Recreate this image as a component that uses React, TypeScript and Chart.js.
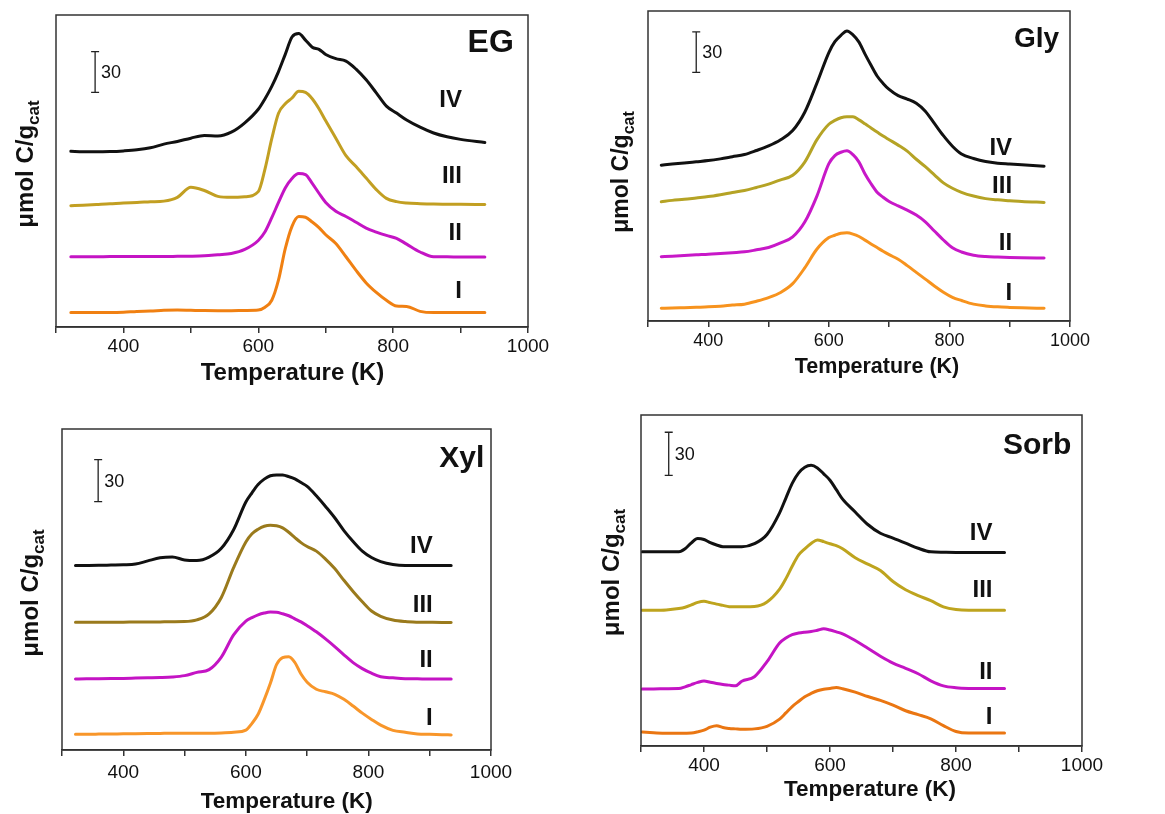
import React, { useEffect, useRef } from "react";
import { Chart, registerables } from "chart.js";

Chart.register(...registerables);

const FONT = '"Liberation Sans", Arial, Helvetica, sans-serif';

const seriesNames = ["I", "II", "III", "IV"];
const xTitleText = "Temperature (K)";
const yTitleMain = "\u03bcmol C/g";
const yTitleSub = "cat";
const scaleBarLabel = "30";
const xTickValues = [400, 600, 800, 1000];

// ---------- EG ----------
const egTemps = [322, 340, 360, 380, 400, 420, 440, 460, 480, 500, 520, 540, 560, 580, 600, 610, 620, 630, 640, 650, 660, 670, 680, 690, 700, 715, 730, 745, 760, 775, 790, 805, 820, 840, 860, 880, 900, 936];
const egI = [10.6, 10.6, 10.7, 10.7, 10.9, 11.5, 11.8, 12.3, 12.5, 12.3, 12.1, 12.0, 12.0, 12.2, 12.5, 14.6, 19.7, 34.7, 57.7, 74.2, 81.4, 80.9, 77.4, 73.3, 68.0, 61.6, 51.8, 41.7, 32.5, 25.5, 19.7, 15.5, 15.2, 11.5, 10.6, 10.6, 10.6, 10.6];
const egII = [51.8, 51.8, 51.8, 51.9, 51.9, 52.0, 52.0, 52.0, 52.1, 52.2, 52.5, 53.3, 54.2, 57.2, 63.8, 70.2, 80.6, 91.8, 102.5, 109.5, 113.1, 112.3, 105.9, 98.6, 91.8, 85.3, 81.5, 77.2, 72.9, 70.0, 67.5, 65.4, 61.1, 55.3, 51.8, 51.7, 51.6, 51.6];
const egIII = [89.4, 89.8, 90.3, 90.8, 91.5, 91.8, 92.3, 92.8, 95.6, 103.0, 100.6, 96.3, 95.6, 96.0, 99.8, 116.6, 138.8, 157.6, 164.5, 168.8, 173.8, 173.0, 168.3, 160.9, 152.0, 139.2, 126.3, 118.3, 109.8, 101.3, 94.8, 92.4, 91.4, 90.9, 90.6, 90.5, 90.4, 90.3];
const egIV = [129.6, 129.2, 129.1, 129.3, 129.8, 130.6, 132.1, 134.8, 136.8, 139.2, 141.2, 140.8, 143.6, 150.5, 160.5, 168.3, 177.4, 188.3, 201.0, 213.8, 216.3, 211.5, 206.3, 204.7, 200.9, 197.8, 196.0, 190.1, 182.2, 172.6, 162.8, 157.7, 152.6, 147.3, 143.0, 140.2, 138.3, 136.0];

// ---------- Gly ----------
const glyTemps = [322, 340, 360, 380, 400, 420, 440, 460, 480, 500, 520, 540, 560, 580, 600, 610, 620, 630, 640, 650, 660, 670, 680, 690, 700, 715, 730, 745, 760, 775, 790, 805, 820, 840, 860, 880, 900, 920, 957];
const glyI = [9.4, 9.6, 9.9, 10.2, 10.5, 11.0, 11.8, 12.5, 14.7, 17.4, 21.2, 27.7, 39.4, 53.2, 61.9, 63.6, 65.1, 65.4, 64.5, 62.7, 60.0, 57.2, 54.5, 51.7, 49.2, 45.8, 41.1, 36.1, 31.1, 26.0, 21.4, 17.6, 15.2, 12.5, 11.2, 10.5, 10.1, 9.8, 9.4];
const glyII = [47.7, 48.1, 48.6, 49.1, 49.5, 50.1, 50.7, 51.3, 52.8, 54.5, 57.9, 62.4, 73.4, 92.5, 116.7, 122.7, 125.2, 126.3, 123.4, 117.9, 109.0, 101.8, 95.6, 91.8, 88.7, 85.4, 82.3, 78.6, 73.6, 66.8, 60.1, 54.3, 51.2, 48.8, 47.8, 47.4, 47.1, 46.9, 46.7];
const glyIII = [88.5, 89.5, 90.3, 91.3, 92.3, 93.7, 95.3, 96.8, 99.1, 101.6, 104.7, 108.1, 117.9, 134.4, 146.0, 148.8, 150.8, 151.5, 151.5, 149.2, 146.3, 143.2, 140.2, 137.2, 134.5, 130.5, 126.0, 120.0, 114.5, 108.5, 102.5, 98.5, 95.5, 92.7, 90.8, 89.9, 89.3, 88.7, 88.0];
const glyIV = [115.6, 116.4, 117.2, 118.1, 119.0, 120.3, 121.9, 123.5, 126.5, 129.9, 134.5, 141.3, 154.9, 176.3, 199.2, 207.2, 212.0, 215.2, 212.3, 206.9, 198.0, 189.7, 181.8, 176.3, 171.8, 167.2, 164.7, 161.6, 155.7, 146.6, 137.5, 129.7, 123.9, 120.6, 118.3, 117.1, 116.5, 115.9, 114.9];

// ---------- Xyl ----------
const xylTemps = [322, 340, 360, 380, 400, 420, 440, 460, 480, 500, 520, 540, 560, 580, 600, 610, 620, 630, 640, 650, 660, 670, 680, 690, 700, 715, 730, 745, 760, 775, 790, 805, 820, 840, 860, 880, 900, 920, 935];
const xylI = [11.2, 11.3, 11.4, 11.5, 11.6, 11.7, 11.8, 11.9, 12.0, 12.0, 12.0, 12.0, 12.2, 12.7, 14.2, 19.1, 25.6, 36.1, 47.8, 61.1, 66.2, 66.9, 62.7, 54.4, 48.6, 43.5, 41.7, 39.9, 36.3, 31.5, 26.4, 21.9, 17.8, 14.1, 12.7, 11.5, 11.2, 11.0, 10.8];
const xylII = [50.9, 51.0, 51.1, 51.2, 51.3, 51.5, 51.7, 51.9, 52.3, 53.3, 55.6, 57.6, 66.6, 82.5, 92.4, 94.8, 96.8, 98.1, 98.8, 98.7, 97.6, 96.2, 94.0, 91.8, 89.1, 84.7, 79.6, 74.1, 68.2, 62.6, 58.3, 55.0, 52.5, 51.7, 51.1, 51.0, 50.9, 50.9, 50.9];
const xylIII = [91.6, 91.6, 91.6, 91.6, 91.6, 91.7, 91.7, 91.8, 91.9, 92.0, 93.2, 97.5, 109.3, 130.7, 149.1, 155.0, 158.2, 160.3, 161.0, 160.7, 159.2, 156.0, 152.2, 148.6, 145.8, 142.5, 136.8, 130.0, 121.6, 113.6, 106.2, 99.6, 95.8, 93.1, 92.0, 91.6, 91.5, 91.4, 91.3];
const xylIV = [132.2, 132.2, 132.3, 132.5, 132.7, 133.2, 135.5, 137.7, 138.3, 136.2, 135.8, 138.2, 144.5, 157.8, 177.7, 184.3, 190.2, 194.1, 196.5, 197.1, 197.0, 195.9, 194.3, 191.6, 188.9, 182.2, 174.5, 166.4, 157.2, 149.4, 142.5, 137.9, 135.0, 132.9, 132.2, 132.2, 132.2, 132.2, 132.2];

// ---------- Sorb ----------
const sorbTemps = [302, 320, 340, 360, 370, 380, 390, 400, 410, 420, 430, 440, 450, 460, 480, 500, 520, 530, 540, 550, 560, 570, 580, 590, 600, 610, 620, 640, 660, 680, 700, 720, 740, 760, 780, 800, 820, 840, 860, 877];
const sorbI = [9.7, 9.2, 8.8, 8.8, 8.9, 9.0, 9.8, 11.0, 13.1, 14.1, 12.8, 12.2, 11.9, 11.6, 11.9, 13.7, 18.7, 23.0, 27.4, 30.9, 34.2, 36.5, 38.4, 39.5, 40.0, 40.6, 39.8, 37.4, 34.4, 31.7, 28.4, 24.5, 21.8, 18.9, 14.2, 10.1, 9.0, 9.0, 9.0, 9.0];
const sorbII = [39.6, 39.6, 39.8, 39.9, 41.1, 42.7, 44.2, 45.2, 44.3, 43.5, 42.8, 42.3, 41.8, 45.0, 48.1, 58.6, 71.6, 75.0, 77.4, 78.5, 79.1, 79.5, 80.4, 81.4, 80.6, 79.3, 77.9, 73.3, 67.9, 62.4, 57.6, 54.0, 50.2, 45.3, 41.8, 40.5, 40.0, 39.9, 39.9, 39.9];
const sorbIII = [94.3, 94.3, 94.5, 95.5, 96.4, 98.0, 99.8, 100.6, 99.6, 98.6, 97.7, 96.8, 96.7, 96.8, 97.0, 100.1, 109.0, 116.3, 124.9, 132.6, 137.0, 140.7, 143.2, 142.0, 140.5, 139.2, 137.0, 130.8, 126.4, 122.0, 114.3, 108.6, 104.5, 101.0, 96.7, 94.8, 94.3, 94.3, 94.3, 94.3];
const sorbIV = [134.9, 134.9, 134.9, 135.0, 137.1, 141.2, 144.2, 143.5, 141.3, 139.7, 138.5, 138.4, 138.4, 138.4, 140.6, 147.0, 162.0, 172.3, 182.5, 189.6, 193.7, 195.0, 193.2, 189.1, 184.7, 178.1, 171.5, 162.6, 153.9, 147.8, 144.5, 141.0, 137.4, 134.9, 134.6, 134.5, 134.5, 134.4, 134.4, 134.4];

type PanelCfg = {
  key: string;
  title: string;
  titleSize: number;
  titleAt: [number, number];
  canvas: { left: number; top: number; width: number; height: number };
  box: { left: number; top: number; right: number; bottom: number };
  temps: number[];
  series: number[][];
  colors: string[];
  numeralX: number;
  numeralY: number[];
  scaleBar: { x: number; y0: number; y1: number };
  tickFont: number;
  tickPad: number;
  xTitle: { x: number; y: number; size: number };
  yTitle: { x: number; y: number; size: number };
};

const panels: PanelCfg[] = [
  {
    key: "EG",
    title: "EG",
    titleSize: 32,
    titleAt: [979, 203],
    canvas: { left: 0, top: 0, width: 580, height: 395 },
    box: { left: 56, top: 15, right: 528, bottom: 327 },
    temps: egTemps,
    series: [egI, egII, egIII, egIV],
    colors: ["#f08012", "#c414c4", "#c29f22", "#111111"],
    numeralX: 902,
    numeralY: [21.4, 64, 106, 162],
    scaleBar: { x: 358, y0: 173, y1: 203 },
    tickFont: 19,
    tickPad: 2,
    xTitle: { x: 292.5, y: 380, size: 24 },
    yTitle: { x: 33, y: 164, size: 24 },
  },
  {
    key: "Gly",
    title: "Gly",
    titleSize: 28,
    titleAt: [982, 203],
    canvas: { left: 580, top: 0, width: 585, height: 395 },
    box: { left: 648, top: 11, right: 1070, bottom: 321 },
    temps: glyTemps,
    series: [glyI, glyII, glyIII, glyIV],
    colors: ["#f7931e", "#c818c8", "#b5a325", "#111111"],
    numeralX: 904,
    numeralY: [15.6, 52.6, 94.9, 123],
    scaleBar: { x: 380, y0: 184.5, y1: 214.5 },
    tickFont: 18,
    tickPad: 3,
    xTitle: { x: 877, y: 373, size: 21.5 },
    yTitle: { x: 628, y: 172, size: 23 },
  },
  {
    key: "Xyl",
    title: "Xyl",
    titleSize: 30,
    titleAt: [989, 203],
    canvas: { left: 0, top: 395, width: 580, height: 419 },
    box: { left: 62, top: 429, right: 491, bottom: 750 },
    temps: xylTemps,
    series: [xylI, xylII, xylIII, xylIV],
    colors: ["#f8962a", "#c414c4", "#9a7a1c", "#111111"],
    numeralX: 905,
    numeralY: [17.9, 59.7, 99.2, 141],
    scaleBar: { x: 359, y0: 178, y1: 208 },
    tickFont: 19,
    tickPad: 5,
    xTitle: { x: 286.7, y: 808, size: 22.5 },
    yTitle: { x: 38, y: 593, size: 24 },
  },
  {
    key: "Sorb",
    title: "Sorb",
    titleSize: 30,
    titleAt: [983, 203],
    canvas: { left: 580, top: 395, width: 585, height: 419 },
    box: { left: 641, top: 415, right: 1082, bottom: 746 },
    temps: sorbTemps,
    series: [sorbI, sorbII, sorbIII, sorbIV],
    colors: ["#ea7612", "#c414c4", "#bea41e", "#111111"],
    numeralX: 858,
    numeralY: [15.6, 46.9, 103.2, 143],
    scaleBar: { x: 344, y0: 188, y1: 218 },
    tickFont: 19,
    tickPad: 2,
    xTitle: { x: 870, y: 796, size: 22.5 },
    yTitle: { x: 619, y: 572.5, size: 24 },
  },
];

function overlayPlugin(p: PanelCfg) {
  return {
    id: "overlay" + p.key,
    afterDraw(chart: any) {
      const { ctx, chartArea: a, scales } = chart;
      const xs = scales.x;
      const ys = scales.y;
      ctx.save();
      // frame
      ctx.strokeStyle = "#333333";
      ctx.lineWidth = 1.5;
      ctx.strokeRect(a.left, a.top, a.right - a.left, a.bottom - a.top);
      // scale bar
      const bx = xs.getPixelForValue(p.scaleBar.x);
      const b0 = ys.getPixelForValue(p.scaleBar.y0);
      const b1 = ys.getPixelForValue(p.scaleBar.y1);
      ctx.strokeStyle = "#222222";
      ctx.lineWidth = 1.3;
      ctx.beginPath();
      ctx.moveTo(bx, b0);
      ctx.lineTo(bx, b1);
      ctx.moveTo(bx - 4, b0);
      ctx.lineTo(bx + 4, b0);
      ctx.moveTo(bx - 4, b1);
      ctx.lineTo(bx + 4, b1);
      ctx.stroke();
      ctx.fillStyle = "#111111";
      ctx.font = `18px ${FONT}`;
      ctx.textAlign = "left";
      ctx.textBaseline = "middle";
      ctx.fillText(scaleBarLabel, bx + 6, (b0 + b1) / 2 + 1);
      // panel title
      ctx.textBaseline = "alphabetic";
      ctx.textAlign = "right";
      ctx.font = `bold ${p.titleSize}px ${FONT}`;
      ctx.fillText(p.title, xs.getPixelForValue(p.titleAt[0]), ys.getPixelForValue(p.titleAt[1]));
      // numerals
      ctx.font = `bold 24px ${FONT}`;
      seriesNames.forEach((n, i) => {
        ctx.fillText(n, xs.getPixelForValue(p.numeralX), ys.getPixelForValue(p.numeralY[i]));
      });
      // x title
      ctx.textAlign = "center";
      ctx.font = `bold ${p.xTitle.size}px ${FONT}`;
      ctx.fillText(xTitleText, p.xTitle.x - p.canvas.left, p.xTitle.y - p.canvas.top);
      // y title (rotated, with subscript)
      const s = p.yTitle.size;
      ctx.save();
      ctx.translate(p.yTitle.x - p.canvas.left, p.yTitle.y - p.canvas.top);
      ctx.rotate(-Math.PI / 2);
      ctx.textAlign = "left";
      ctx.font = `bold ${s}px ${FONT}`;
      const wm = ctx.measureText(yTitleMain).width;
      ctx.font = `bold ${Math.round(s * 0.7)}px ${FONT}`;
      const ws = ctx.measureText(yTitleSub).width;
      const start = -(wm + ws) / 2;
      ctx.font = `bold ${s}px ${FONT}`;
      ctx.fillText(yTitleMain, start, 0);
      ctx.font = `bold ${Math.round(s * 0.7)}px ${FONT}`;
      ctx.fillText(yTitleSub, start + wm, s * 0.25);
      ctx.restore();
      ctx.restore();
    },
  };
}

function Panel({ p }: { p: PanelCfg }) {
  const ref = useRef<HTMLCanvasElement | null>(null);
  useEffect(() => {
    if (!ref.current) return;
    const c = p.canvas;
    const chart = new Chart(ref.current, {
      type: "line",
      data: {
        datasets: p.series.map((s, i) => ({
          label: seriesNames[i],
          data: p.temps.map((t, j) => ({ x: t, y: s[j] })),
          borderColor: p.colors[i],
          backgroundColor: p.colors[i],
          borderWidth: 3,
          pointRadius: 0,
          fill: false,
          cubicInterpolationMode: "monotone" as const,
          borderCapStyle: "round" as const,
          borderJoinStyle: "round" as const,
        })),
      },
      options: {
        responsive: false,
        animation: false,
        events: [],
        layout: {
          padding: {
            left: p.box.left - c.left,
            top: p.box.top - c.top,
            right: c.left + c.width - p.box.right,
            bottom: 0,
          },
        },
        plugins: { legend: { display: false }, tooltip: { enabled: false } },
        scales: {
          x: {
            type: "linear",
            min: 300,
            max: 1000,
            afterFit: (scale: any) => {
              scale.height = c.top + c.height - p.box.bottom;
            },
            ticks: {
              stepSize: 100,
              autoSkip: false,
              maxRotation: 0,
              padding: p.tickPad,
              color: "#111111",
              font: { family: FONT, size: p.tickFont },
              callback: (v: any) => (xTickValues.includes(Number(v)) ? String(v) : ""),
            },
            grid: {
              display: true,
              drawOnChartArea: false,
              drawTicks: true,
              tickLength: 6,
              color: "#333333",
              lineWidth: 1.5,
            },
            border: { display: true, color: "#333333", width: 1.5 },
          },
          y: { type: "linear", display: false, min: 0, max: 230 },
        },
      },
      plugins: [overlayPlugin(p)],
    } as any);
    return () => chart.destroy();
  }, [p]);
  return (
    <canvas
      ref={ref}
      width={p.canvas.width}
      height={p.canvas.height}
      style={{
        position: "absolute",
        left: p.canvas.left,
        top: p.canvas.top,
        width: p.canvas.width,
        height: p.canvas.height,
      }}
    />
  );
}

export default function App() {
  return (
    <div style={{ position: "absolute", left: 0, top: 0, width: 1165, height: 814, background: "#ffffff" }}>
      {panels.map((p) => (
        <Panel key={p.key} p={p} />
      ))}
    </div>
  );
}
